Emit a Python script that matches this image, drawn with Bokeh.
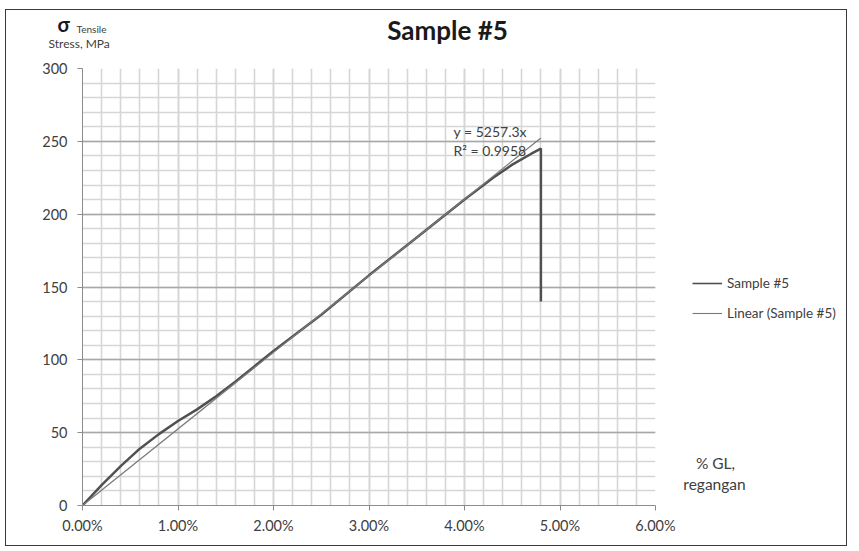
from bokeh.plotting import figure
from bokeh.layouts import column, row
from bokeh.models import (Range1d, SingleIntervalTicker, NumeralTickFormatter, Label,
                          Legend, LegendItem, ColumnDataSource)
from bokeh.embed import file_html
from bokeh.resources import INLINE

# ---- data ----
strain = [0.0, 0.002, 0.004, 0.006, 0.008, 0.010, 0.012, 0.014, 0.016, 0.020,
          0.025, 0.030, 0.035, 0.040, 0.043, 0.045, 0.047, 0.048, 0.048]
stress = [0, 14, 27, 39, 49, 58, 66, 75, 85, 106,
          131, 158, 184, 210, 225, 234, 241.5, 245, 140]
trend_slope = 5257.3
trend_x = [0.0, 0.048]
trend_r2 = 0.9958
series_names = ["Sample #5", "Linear (Sample #5)"]
y_ticks_interval = 50
x_ticks_interval = 0.01

FONT = "Lato"
TXT = "#404040"
C_SERIES = "#505050"
C_TREND = "#7a7a7a"

W_IN, H_HEAD, H_MAIN, W_MAIN = 840, 51, 484, 674
W_RIGHT = W_IN - W_MAIN
B_TOP, B_BOTTOM = 7, 40


def blank(w, h, top=0, bottom=0):
    f = figure(width=w, height=h, output_backend="svg", toolbar_location=None,
               x_range=Range1d(0, w), y_range=Range1d(0, h - top - bottom),
               x_axis_type=None, y_axis_type=None,
               min_border=0, min_border_left=0, min_border_right=0,
               min_border_top=top, min_border_bottom=bottom)
    f.grid.visible = False
    f.outline_line_color = None
    return f


def lab(f, x, y, t, size, bold=False, align="left", color=TXT):
    f.add_layout(Label(x=x, y=y, text=t, text_font=FONT, text_font_size=size,
                       text_font_style="bold" if bold else "normal", text_color=color,
                       text_align=align, text_baseline="middle"))


# ---- header ----
head = blank(W_IN, H_HEAD)
lab(head, 441, 32, "Sample #5", "26px", bold=True, align="center", color="#1a1a1a")
lab(head, 51, 38, "σ", "20px", bold=True, color="#1a1a1a")
lab(head, 70, 33, "Tensile", "10px")
lab(head, 42, 18, "Stress, MPa", "12px")

# ---- main plot ----
p = figure(width=W_MAIN, height=H_MAIN, output_backend="svg", toolbar_location=None,
           x_range=Range1d(0, 0.06), y_range=Range1d(0, 300),
           min_border_left=76, min_border_right=25, min_border_top=B_TOP,
           min_border_bottom=B_BOTTOM)
p.outline_line_color = None

p.yaxis.ticker = SingleIntervalTicker(interval=y_ticks_interval, num_minor_ticks=5)
p.xaxis.ticker = SingleIntervalTicker(interval=x_ticks_interval, num_minor_ticks=5)
p.xaxis.formatter = NumeralTickFormatter(format="0.00%")
for ax in (p.xaxis, p.yaxis):
    ax.axis_line_color = "#8c8c8c"
    ax.major_tick_line_color = "#8c8c8c"
    ax.major_tick_in = 0
    ax.major_tick_out = 5
    ax.minor_tick_in = 0
    ax.minor_tick_out = 0
    ax.major_label_text_font = FONT
    ax.major_label_text_font_size = "14.5px"
    ax.major_label_text_color = TXT
p.yaxis.major_label_standoff = 10
p.xaxis.major_label_standoff = 6

p.xgrid.grid_line_color = "#d6d6d6"
p.xgrid.grid_line_width = 1.6
p.xgrid.minor_grid_line_color = "#d6d6d6"
p.xgrid.minor_grid_line_width = 1.6
p.ygrid.grid_line_color = "#a8a8a8"
p.ygrid.grid_line_width = 1.5
p.ygrid.minor_grid_line_color = "#d6d6d6"
p.ygrid.minor_grid_line_width = 1.6

src = ColumnDataSource(dict(x=strain, y=stress))
p.line("x", "y", source=src, line_color=C_SERIES, line_width=2.5)
ty = [trend_slope * v for v in trend_x]
p.line(trend_x, ty, line_color=C_TREND, line_width=1.2)

lab(p, 0.03885, 257, "y = 5257.3x", "14px")
lab(p, 0.03885, 243.5, "R² = %.4f" % trend_r2, "14px")

# ---- right panel: legend + axis caption (frame aligned with main frame) ----
rp = blank(W_RIGHT, H_MAIN, top=B_TOP, bottom=B_BOTTOM)
nan = float("nan")
lg1 = rp.line([nan], [nan], line_color=C_SERIES, line_width=1.6)
lg2 = rp.line([nan], [nan], line_color=C_TREND, line_width=1.1)
legend = Legend(items=[LegendItem(label=series_names[0], renderers=[lg1]),
                       LegendItem(label=series_names[1], renderers=[lg2])],
                location=(12, 183), border_line_color=None, background_fill_alpha=0,
                label_text_font=FONT, label_text_font_size="13.5px", label_text_color=TXT,
                glyph_width=30, glyph_height=18, label_height=18, spacing=12,
                padding=0, margin=0, label_standoff=5)
rp.add_layout(legend, "center")
lab(rp, 35, 43, "% GL,", "15.5px", align="center")
lab(rp, 34, 22, "regangan", "15.5px", align="center")

layout = column(head, row(p, rp), styles={"border": "1px solid #3a3a3a"}, margin=(9, 0, 0, 5))
open("out.html", "w").write(file_html(layout, INLINE))
